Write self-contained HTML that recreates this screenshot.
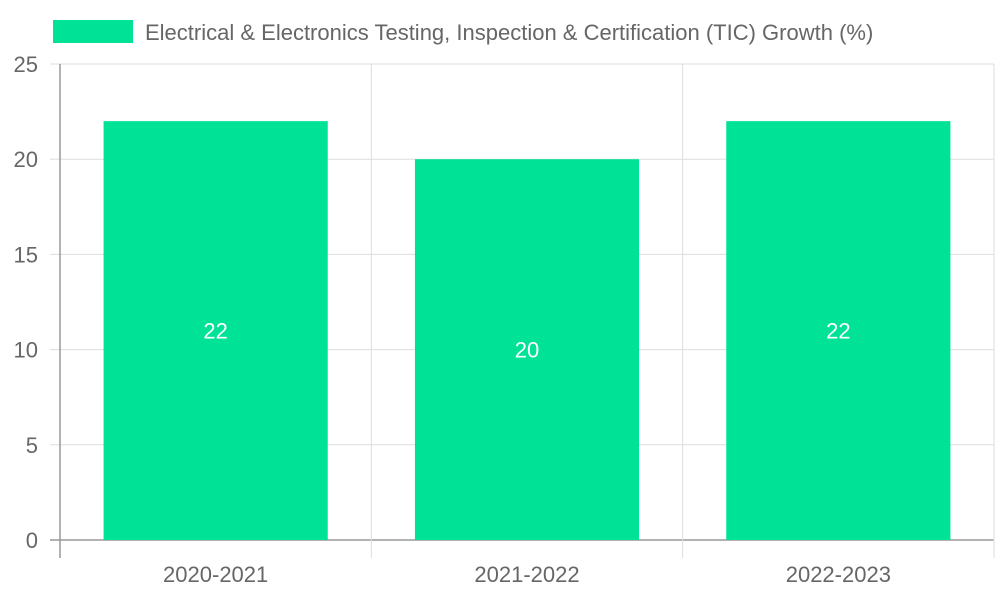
<!DOCTYPE html>
<html><head><meta charset="utf-8"><style>
body{margin:0;background:#fff;}
svg{display:block;font-family:"Liberation Sans",sans-serif;}
</style></head><body>
<svg id="chart" width="1000" height="600">
<g id="legend">
<rect x="53" y="20" width="80" height="23" fill="#00e396"/>
<text x="145" y="40" font-size="22" fill="#666">Electrical &amp; Electronics Testing, Inspection &amp; Certification (TIC) Growth (%)</text>
</g>
<g id="grid"></g><g id="bars"></g><g id="axes"></g>
</svg>
<script>
const categories=["2020-2021","2021-2022","2022-2023"];
const values=[22,20,22];
const yTicks=[0,5,10,15,20,25];
const NS="http://www.w3.org/2000/svg";
const L=60,R=994,T=64,B=540,yMax=25;
const y=v=>B-(v/yMax)*(B-T);
const bw=(R-L)/categories.length;
const x=i=>L+i*bw;
function mk(tag,attrs,parent){const e=document.createElementNS(NS,tag);for(const k in attrs)e.setAttribute(k,attrs[k]);parent.appendChild(e);return e;}
const grid=document.getElementById('grid'),bars=document.getElementById('bars'),axes=document.getElementById('axes');
yTicks.forEach(t=>{
 const ln=mk('line',{x1:L-10,x2:R,y1:y(t),y2:y(t),stroke:t===0?'#999':'#ddd','stroke-width':t===0?1.5:1},grid);
 
 
 const tx=mk('text',{x:L-22,y:y(t)+8,'text-anchor':'end','font-size':22,fill:'#666'},axes);
 tx.textContent=t;
 
 
});
for(let i=0;i<=categories.length;i++){
 const ln=mk('line',{x1:x(i),x2:x(i),y1:T,y2:B+18,stroke:i===0?'#999':'#ddd','stroke-width':i===0?1.5:1},grid);
 
 
}
categories.forEach((c,i)=>{
 const w=bw*0.72,bx=x(i)+(bw-w)/2;
 const r=mk('rect',{x:bx,y:y(values[i]),width:w,height:B-y(values[i]),fill:'#00e396'},bars);
 
 
 const vl=mk('text',{x:x(i)+bw/2,y:(y(values[i])+B)/2+8,'text-anchor':'middle','font-size':22,fill:'#fff'},bars);
 vl.textContent=values[i];
 
 
 const xl=mk('text',{x:x(i)+bw/2,y:582,'text-anchor':'middle','font-size':22,fill:'#666'},axes);
 xl.textContent=c;
 
 
});
</script>
</body></html>
